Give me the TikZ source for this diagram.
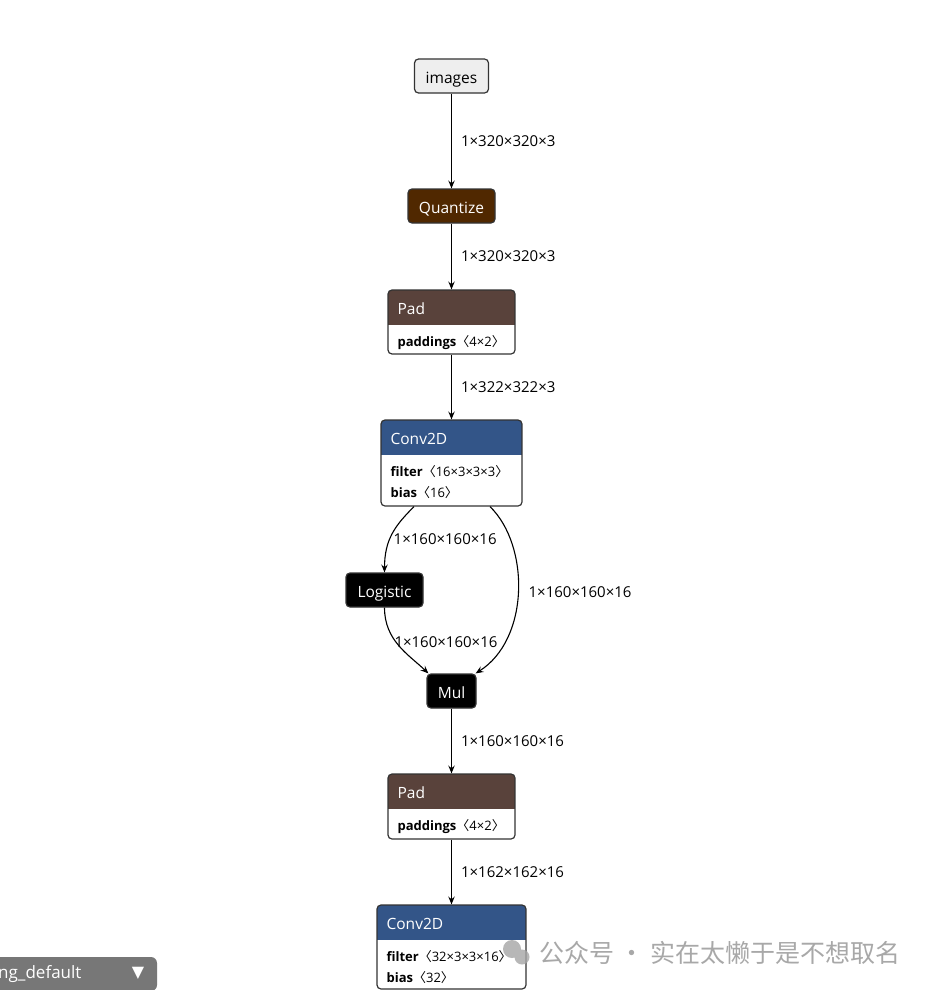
\documentclass[tikz,border=0pt]{standalone}
\usepackage{fontspec}
\setmainfont{Open Sans}
\newfontfamily\cjk{Noto Sans CJK SC}
\newfontfamily\dejavu{DejaVu Sans}
\usetikzlibrary{arrows.meta,positioning}
\definecolor{inputc}{HTML}{EEEEEE}
\definecolor{quantc}{HTML}{502800}
\definecolor{shapec}{HTML}{59423B}
\definecolor{layerc}{HTML}{335588}
\definecolor{borderc}{HTML}{333333}
\definecolor{menuc}{HTML}{777777}
\newcommand\tdim[1]{{\cjk 〈}#1{\cjk 〉}}

\begin{document}
\begin{tikzpicture}[x=1pt, y=-1pt,
    every node/.style={font=\fontsize{15.5}{18}\selectfont},
    box/.style={draw=borderc, rounded corners=4pt, line width=1.2pt, inner sep=0pt, minimum height=34pt, text height=15pt, text depth=0pt},
    op/.style={box, fill=black, text=white},
    layer/.style={box, fill=white, path picture={\fill[#1, sharp corners] (path picture bounding box.north west) rectangle ([yshift=-35pt]path picture bounding box.north east);}},
    title/.style={anchor=base west, text=white, inner sep=0pt},
    attr/.style={anchor=base west, inner sep=0pt, font=\fontsize{13}{15}\selectfont},
    lbl/.style={inner sep=0pt, font=\fontsize{15}{17}\selectfont},
    edge/.style={-{Stealth[length=8pt, width=6.5pt, inset=3pt]}, line width=1.1pt}]
    \useasboundingbox[fill=white] (0,0) rectangle (930,990);

    % nodes
    \node[box, fill=inputc, minimum width=74pt, minimum height=34pt] (images) at (451.5,76) {images};
    \node[op, fill=quantc, minimum width=87pt] (quant) at (451.5,206) {Quantize};

    \node[layer=shapec, minimum width=127pt, minimum height=64pt] (pad1) at (451.5,322) {};
    \node[title] (pad1t) at ([xshift=10pt, yshift=-25pt]pad1.north west) {Pad};
    \node[attr] (pad1a) at ([xshift=10pt, yshift=-57.5pt]pad1.north west) {\textbf{paddings}\tdim{4×2}};

    \node[layer=layerc, minimum width=141pt, minimum height=86pt] (conv1) at (451.5,463) {};
    \node[title] (conv1t) at ([xshift=10pt, yshift=-25pt]conv1.north west) {Conv2D};
    \node[attr] (conv1f) at ([xshift=10pt, yshift=-57pt]conv1.north west) {\textbf{filter}\tdim{16×3×3×3}};
    \node[attr] (conv1b) at ([xshift=10pt, yshift=-78pt]conv1.north west) {\textbf{bias}\tdim{16}};

    \node[op, minimum width=77pt] (logistic) at (384.5,590) {Logistic};
    \node[op, minimum width=49pt] (mul) at (451.5,691) {Mul};

    \node[layer=shapec, minimum width=127pt, minimum height=65pt] (pad2) at (451.5,806.5) {};
    \node[title] (pad2t) at ([xshift=10pt, yshift=-25pt]pad2.north west) {Pad};
    \node[attr] (pad2a) at ([xshift=10pt, yshift=-57.5pt]pad2.north west) {\textbf{paddings}\tdim{4×2}};

    \node[layer=layerc, minimum width=149pt, minimum height=84pt] (conv2) at (451.5,947) {};
    \node[title] (conv2t) at ([xshift=10pt, yshift=-25pt]conv2.north west) {Conv2D};
    \node[attr] (conv2f) at ([xshift=10pt, yshift=-57.5pt]conv2.north west) {\textbf{filter}\tdim{32×3×3×16}};
    \node[attr] (conv2b) at ([xshift=10pt, yshift=-78pt]conv2.north west) {\textbf{bias}\tdim{32}};

    % edges
    \draw[edge] (images) -- node[lbl, right=9pt] {1×320×320×3} (quant);
    \draw[edge] (quant) -- node[lbl, right=9pt] {1×320×320×3} (pad1);
    \draw[edge] (pad1) -- node[lbl, right=9pt] {1×322×322×3} (conv1);
    \draw[edge] ([xshift=-37.5pt]conv1.south) .. controls +(-19,19) and +(0,-33) .. (logistic.north)
        node[lbl, pos=0.5, right=1pt, yshift=-5pt] {1×160×160×16};
    \draw[edge] ([xshift=38.5pt]conv1.south) .. controls +(40,39) and +(54,-34) .. ([xshift=-1pt]mul.north east)
        node[lbl, pos=0.5, right=10pt] {1×160×160×16};
    \draw[edge] (logistic.south) .. controls +(0,33) and +(-20,-19) .. ([xshift=2pt]mul.north west)
        node[lbl, pos=0.5, anchor=west, xshift=-5pt, yshift=4pt] {1×160×160×16};
    \draw[edge] (mul) -- node[lbl, right=9pt] {1×160×160×16} (pad2);
    \draw[edge] (pad2) -- node[lbl, right=9pt] {1×162×162×16} (conv2);

    % viewer menu
    \node[fill=menuc, rounded corners=6pt, minimum width=178pt, minimum height=34pt, inner sep=0pt] (menu) at (68,974) {};
    \node[anchor=west, text=white, inner sep=0pt, font=\fontsize{17}{19}\selectfont] (menut) at (-2,974) {ng\_default};
    \node[text=white, inner sep=0pt, font=\dejavu\fontsize{16}{18}\selectfont] (menua) at (138,973) {▼};

    % watermark
    \fill[black!35, opacity=0.8] (512,949) circle (9) (522,957) circle (7.5);
    \node[anchor=west, inner sep=0pt, text=black!40, text opacity=0.85, font=\cjk\fontsize{25}{27}\selectfont] (mark) at (539,953) {公众号 · 实在太懒于是不想取名};
\end{tikzpicture}
\end{document}
